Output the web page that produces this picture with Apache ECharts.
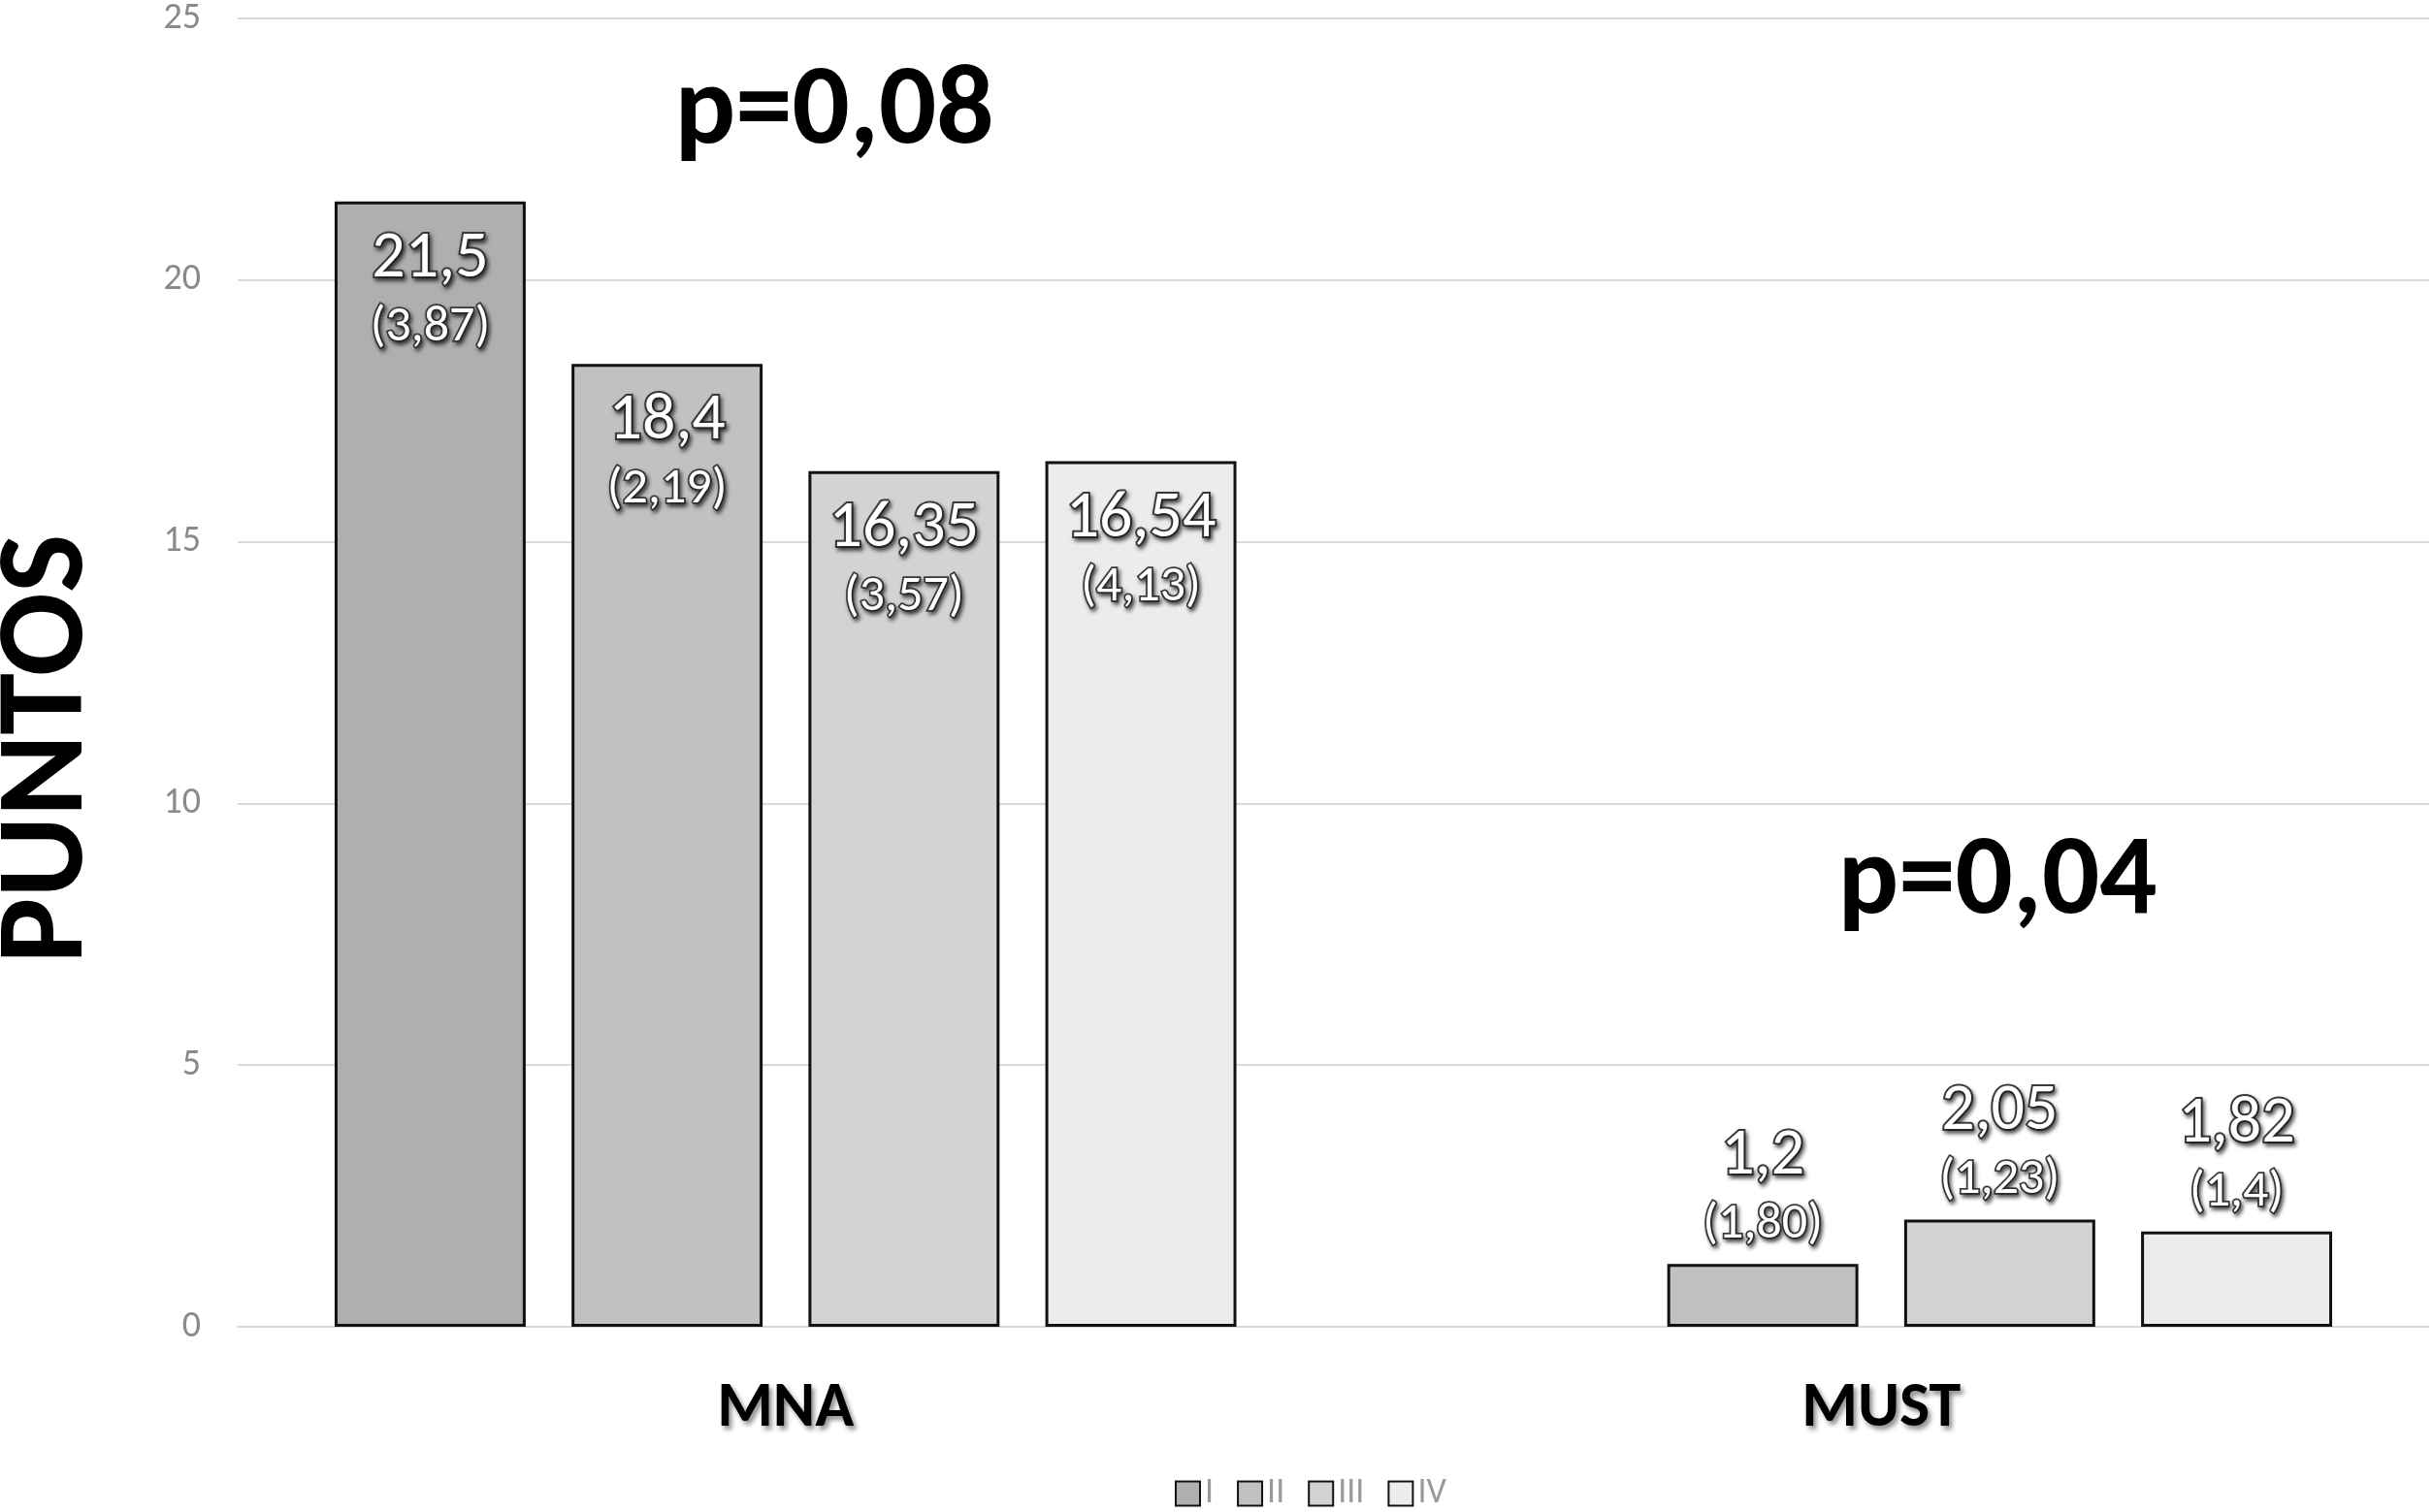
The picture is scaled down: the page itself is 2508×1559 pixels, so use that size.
<!DOCTYPE html>
<html>
<head>
<meta charset="utf-8">
<script src="https://cdn.jsdelivr.net/npm/echarts@6/dist/echarts.min.js"></script>
<style>html,body{margin:0;padding:0;background:#fff;}#chart{width:2508px;height:1559px;}</style>
</head>
<body>
<div id="chart"></div>
<script>
const categories = ['MNA', 'MUST'];
const seriesNames = ['I', 'II', 'III', 'IV'];
const meansI = [21.5, null];
const meansII = [18.4, 1.2];
const meansIII = [16.35, 2.05];
const meansIV = [16.54, 1.82];
const sdI = ['3,87', null];
const sdII = ['2,19', '1,80'];
const sdIII = ['3,57', '1,23'];
const sdIV = ['4,13', '1,4'];
const yTicks = [0, 5, 10, 15, 20, 25];
const pValues = ['p=0,08', 'p=0,04'];
const yName = 'PUNTOS';

const colors = ['#afafaf', '#c1c1c1', '#d3d3d3', '#ececec'];
const FONT = 'Carlito, "Liberation Sans", Arial, sans-serif';
const means = [meansI, meansII, meansIII, meansIV];
const sds = [sdI, sdII, sdIII, sdIV];

const labelRich = {
  v: { fontSize: 68, lineHeight: 76, color: '#fff', fontFamily: FONT,
       textBorderColor: '#3a3a3a', textBorderWidth: 4,
       textShadowColor: 'rgba(0,0,0,0.55)', textShadowBlur: 4, textShadowOffsetX: 2, textShadowOffsetY: 3 },
  s: { fontSize: 52, lineHeight: 64, color: '#fff', fontFamily: FONT,
       textBorderColor: '#3a3a3a', textBorderWidth: 3.5,
       textShadowColor: 'rgba(0,0,0,0.55)', textShadowBlur: 4, textShadowOffsetX: 2, textShadowOffsetY: 3 }
};

const series = seriesNames.map((name, si) => ({
  name: name,
  type: 'bar',
  barGap: '24%',
  barCategoryGap: '17.7%',
  itemStyle: { color: colors[si], borderColor: '#111', borderWidth: 3 },
  data: means[si].map((v, ci) => {
    if (v === null) return null;
    const inside = ci === 0;
    return {
      value: v,
      label: {
        show: true,
        position: inside ? 'insideTop' : 'top',
        distance: inside ? 22 : 8,
        align: 'center',
        formatter: '{v|' + String(v).replace('.', ',') + '}\n{s|(' + sds[si][ci] + ')}',
        rich: labelRich
      }
    };
  })
}));

const chart = echarts.init(document.getElementById('chart'));
chart.setOption({
  backgroundColor: '#fff',
  animation: false,
  grid: { left: 245, right: 4, top: 16, bottom: 191, containLabel: false },
  legend: {
    data: seriesNames,
    left: 1206, top: 1517,
    itemWidth: 25, itemHeight: 25, itemGap: 24,
    icon: 'rect',
    textStyle: { fontSize: 36, color: '#9a9a9a', fontFamily: FONT, padding: [0, 0, 0, 0] }
  },
  xAxis: {
    type: 'category',
    data: categories,
    axisTick: { show: false },
    axisLine: { lineStyle: { color: '#d9d9d9', width: 2 } },
    axisLabel: {
      margin: 52, fontSize: 66, fontWeight: 'bold', color: '#000', fontFamily: FONT,
      textShadowColor: 'rgba(0,0,0,0.45)', textShadowBlur: 5, textShadowOffsetX: 3, textShadowOffsetY: 4
    }
  },
  yAxis: {
    type: 'value',
    min: 0, max: 25, interval: 5,
    axisLine: { show: false },
    axisTick: { show: false },
    splitLine: { lineStyle: { color: '#d9d9d9', width: 2 } },
    axisLabel: {
      margin: 38, fontSize: 38, color: '#8a8a8a', fontFamily: FONT,
      formatter: v => yTicks.includes(v) ? String(v) : ''
    }
  },
  graphic: [
    {
      type: 'text', x: 52, y: 772, rotation: Math.PI / 2,
      style: {
        text: yName, fontSize: 128, fontWeight: 'bold', fill: '#000', fontFamily: FONT,
        align: 'center', verticalAlign: 'middle',
        shadowColor: 'rgba(0,0,0,0.45)', shadowBlur: 6, shadowOffsetX: 4, shadowOffsetY: -4
      }
    },
    {
      type: 'text', x: 860, y: 118,
      style: {
        text: pValues[0], fontSize: 117, fontWeight: 'bold', fill: '#000', fontFamily: FONT,
        align: 'center', verticalAlign: 'middle',
        shadowColor: 'rgba(0,0,0,0.45)', shadowBlur: 6, shadowOffsetX: 4, shadowOffsetY: 5
      }
    },
    {
      type: 'text', x: 2059, y: 912,
      style: {
        text: pValues[1], fontSize: 117, fontWeight: 'bold', fill: '#000', fontFamily: FONT,
        align: 'center', verticalAlign: 'middle',
        shadowColor: 'rgba(0,0,0,0.45)', shadowBlur: 6, shadowOffsetX: 4, shadowOffsetY: 5
      }
    }
  ],
  series: series
});
</script>
</body>
</html>
